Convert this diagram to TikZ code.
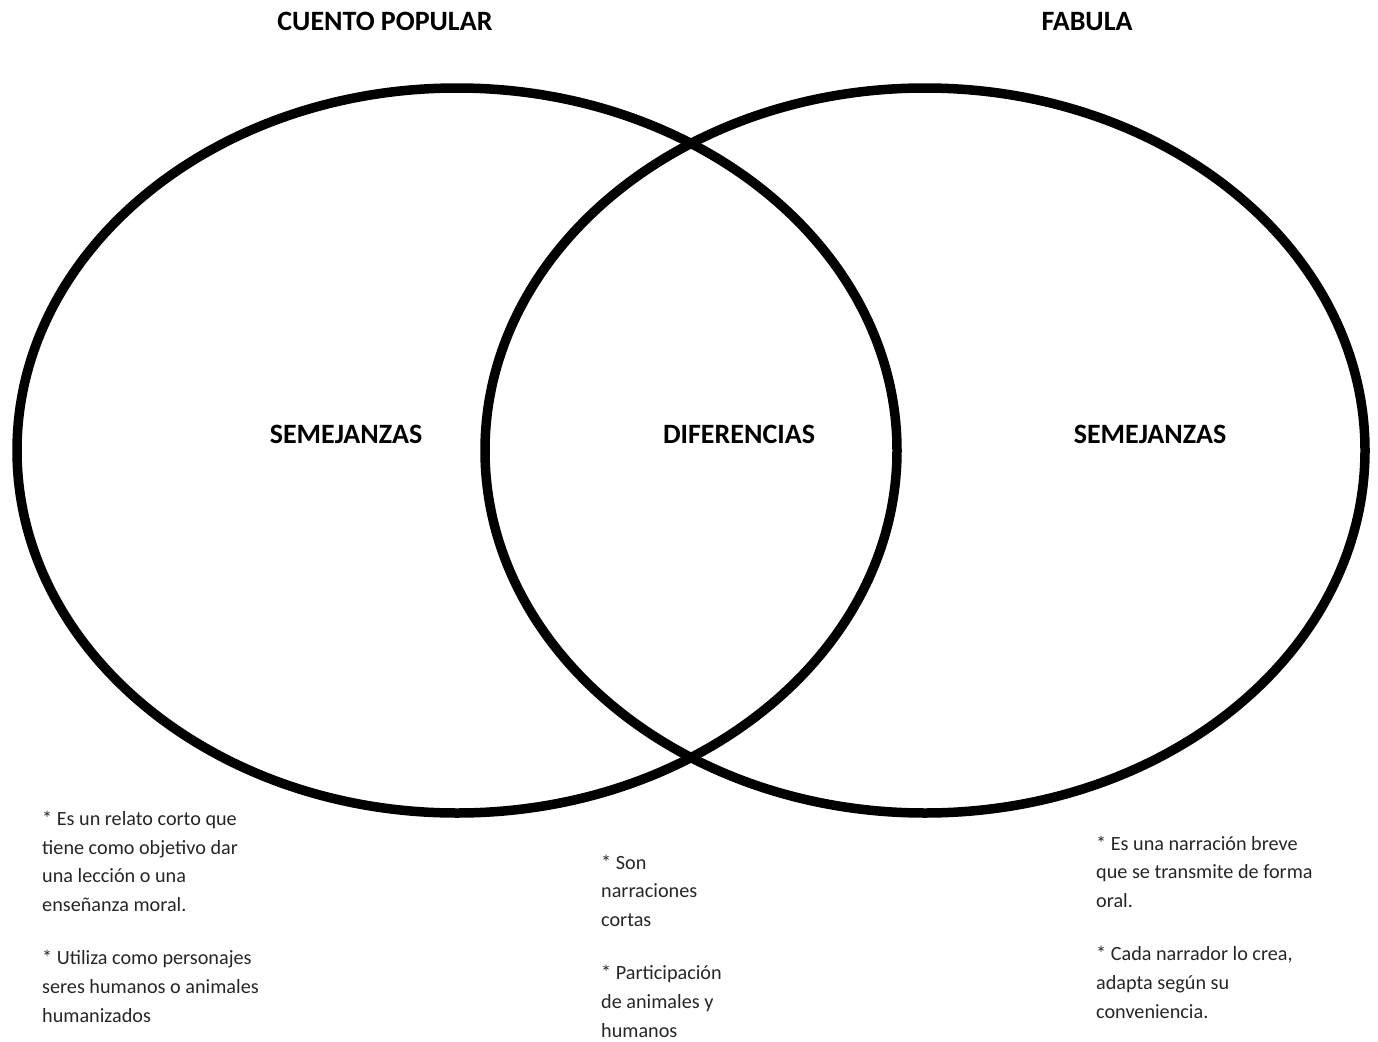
\documentclass[tikz,border=0pt]{standalone}
\usepackage{fontspec}
\setmainfont{Carlito}
\begin{document}
\begin{tikzpicture}[x=1pt,y=-1pt,
  ring/.style={draw=black,line width=9.5pt},
  titletext/.style={font=\fontsize{28}{32}\selectfont\bfseries,inner sep=0pt,anchor=base},
  labeltext/.style={font=\fontsize{28}{32}\selectfont\bfseries,inner sep=0pt,anchor=base},
  bodytext/.style={font=\fontsize{20.2}{28.6}\selectfont,align=left,inner sep=0pt,anchor=base west,text=black!85}]
\useasboundingbox (0,0) rectangle (1378,1041);
\draw[ring] (457,450.5) ellipse [x radius=440,y radius=362.5];
\draw[ring] (925,450.5) ellipse [x radius=440,y radius=362.5];
\node[titletext] (t1) at (385,31) {CUENTO POPULAR};
\node[titletext] (t2) at (1087,31) {FABULA};
\node[labeltext] (s1) at (346,443) {SEMEJANZAS};
\node[labeltext] (d) at (739,443) {DIFERENCIAS};
\node[labeltext] (s2) at (1150,443) {SEMEJANZAS};
\node[bodytext] (b1) at (42,1022) {* Es un relato corto que\\tiene como objetivo dar\\una lección o una\\enseñanza moral.\\[25pt]* Utiliza como personajes\\seres humanos o animales\\humanizados};
\node[bodytext] (b2) at (601,1037) {* Son\\narraciones\\cortas\\[25pt]* Participación\\de animales y\\humanos};
\node[bodytext] (b3) at (1096,1018) {* Es una narración breve\\que se transmite de forma\\oral.\\[25pt]* Cada narrador lo crea,\\adapta según su\\conveniencia.};
\end{tikzpicture}
\end{document}
